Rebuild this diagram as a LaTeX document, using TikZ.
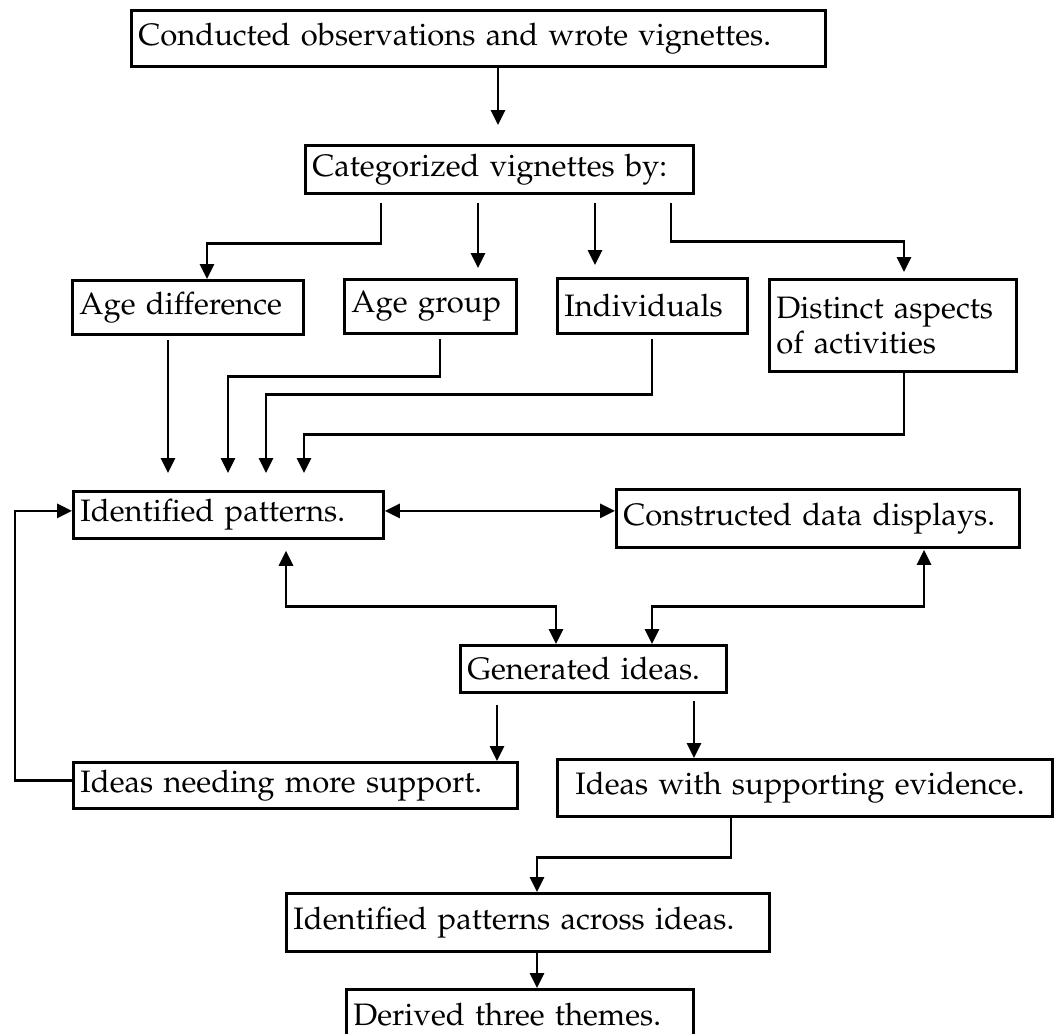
\documentclass[tikz,border=0pt]{standalone}
\usepackage[T1]{fontenc}
\usepackage{mathpazo}
\usetikzlibrary{arrows.meta}

\tikzset{
  stage/.style={draw, line width=2.8pt, rectangle, anchor=north west,
    inner xsep=7pt, inner ysep=0pt, align=left,
    font=\fontsize{31}{35}\selectfont},
  flow/.style={line width=2.8pt, -{Triangle[length=15pt,width=14pt]}},
  twoway/.style={line width=2.8pt, {Triangle[length=15pt,width=14pt]}-{Triangle[length=15pt,width=14pt]}}
}

\begin{document}
\begin{tikzpicture}[x=1pt, y=-1pt]
  \useasboundingbox (0,0) rectangle (1056,1033);

  % boxes
  \node[stage, text width=680pt, minimum height=56pt] (obs) at (130,9) {Conducted observations and wrote vignettes.};
  \node[stage, text width=374pt, minimum height=48pt] (cat) at (304,144) {Categorized vignettes by:};

  \node[stage, text width=217pt, minimum height=54pt] (agediff) at (71,279) {Age difference};
  \node[stage, text width=158pt, minimum height=54pt] (agegrp) at (343,278) {Age group};
  \node[stage, text width=176pt, minimum height=55pt] (indiv) at (556,277) {Individuals};
  \node[stage, text width=233pt, minimum height=92pt] (aspects) at (768,278) {Distinct aspects\\of activities};

  \node[stage, text width=296pt, minimum height=47pt] (patt) at (72,490) {Identified patterns.};
  \node[stage, text width=389pt, minimum height=58pt] (displ) at (615,488) {Constructed data displays.};

  \node[stage, text width=252pt, minimum height=47pt] (gen) at (459,644) {Generated ideas.};

  \node[stage, text width=430pt, minimum height=46pt] (needs) at (72,761) {Ideas needing more support.};
  \node[stage, inner xsep=18pt, text width=459pt, minimum height=57pt] (evid) at (556,758) {Ideas with supporting evidence.};

  \node[stage, text width=469pt, minimum height=58pt] (across) at (285,892) {Identified patterns across ideas.};
  \node[stage, text width=333pt, minimum height=50pt] (themes) at (345,988) {Derived three themes.};

  % connectors
  \draw[flow, shorten >=19pt] ([xshift=368pt]obs.south west) -- ([xshift=194pt]cat.north west);

  \draw[flow] ([xshift=77pt,yshift=-8pt]cat.south west) -- ++(0,41) -| ([xshift=136pt]agediff.north west);
  \draw[flow, shorten >=10pt] ([xshift=174pt,yshift=-8pt]cat.south west) -- ([xshift=135pt]agegrp.north west);
  \draw[flow, shorten >=12pt] ([xshift=291pt,yshift=-8pt]cat.south west) -- ([xshift=39pt]indiv.north west);
  \draw[flow, shorten >=6pt] ([xshift=367pt,yshift=-8pt]cat.south west) -- ++(0,39) -| ([xshift=136pt]aspects.north west);

  \draw[flow, shorten >=17pt] ([xshift=97pt,yshift=-4pt]agediff.south west) -- ([xshift=96pt]patt.north west);
  \draw[flow, shorten >=17pt] ([xshift=97pt,yshift=-4pt]agegrp.south west) -- ++(0,38) -| ([xshift=156pt]patt.north west);
  \draw[flow, shorten >=17pt] ([xshift=96pt,yshift=-4pt]indiv.south west) -- ++(0,56) -| ([xshift=194pt]patt.north west);
  \draw[flow, shorten >=17pt] ([xshift=136pt]aspects.south west) -- ++(0,62) -| ([xshift=232pt]patt.north west);

  \draw[twoway] ([yshift=4pt]patt.east) -- ([yshift=4pt]patt.east -| displ.west);

  \draw[twoway, shorten <=11pt] ([xshift=214pt]patt.south west) -- ++(0,67) -| ([xshift=97pt]gen.north west);
  \draw[twoway, shorten <=1pt] ([xshift=309pt]displ.south west) -- ++(0,58) -| ([xshift=193pt]gen.north west);

  \draw[flow, shorten <=11pt] ([xshift=38pt]gen.south west) -- ([xshift=425pt]needs.north west);
  \draw[flow, shorten <=7pt] ([xshift=235pt]gen.south west) -- ([xshift=138pt]evid.north west);

  \draw[flow] ([yshift=5pt]needs.west) -- ++(-57,0) |- ([yshift=4pt]patt.west);

  \draw[flow] ([xshift=175pt]evid.south west) -- ++(0,40) -| ([xshift=252pt]across.north west);
  \draw[flow] ([xshift=252pt]across.south west) -- ([xshift=192pt]themes.north west);
\end{tikzpicture}
\end{document}
